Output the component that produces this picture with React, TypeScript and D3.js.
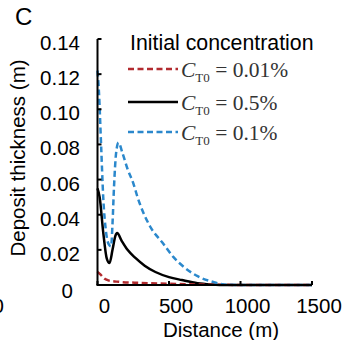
import React from "react";
import * as d3 from "d3";

// Data (distance m, deposit thickness m)
const distRed = [0, 20, 50, 80, 150, 300, 500, 700, 900, 1100, 1500];
const valRed = [0.0075, 0.006, 0.0035, 0.0025, 0.0018, 0.0012, 0.0007, 0.0003, 0.0001, 0, 0];

const distBlack = [0, 15, 40, 65, 84, 105, 125, 137, 170, 210, 265, 330, 405, 500, 590, 700, 800, 900, 1000, 1500];
const valBlack = [0.055, 0.05, 0.03, 0.015, 0.0125, 0.02, 0.028, 0.0296, 0.025, 0.02, 0.0154, 0.011, 0.0074, 0.0045, 0.0028, 0.001, 0.0003, 0, 0, 0];

const distBlue = [0, 10, 25, 40, 60, 80, 95, 105, 115, 130, 147, 175, 210, 250, 280, 370, 455, 530, 600, 700, 810, 900, 1000, 1500];
const valBlue = [0.122, 0.11, 0.08, 0.05, 0.03, 0.023, 0.022, 0.035, 0.055, 0.075, 0.081, 0.075, 0.066, 0.058, 0.05, 0.033, 0.024, 0.016, 0.0105, 0.005, 0.0017, 0.0002, 0, 0];

const xTicks = [0, 500, 1000, 1500];
const yTicks = [0, 0.02, 0.04, 0.06, 0.08, 0.1, 0.12, 0.14];
const legendLabels = ["0.01%", "0.5%", "0.1%"];

const RED = "#B22B2F";
const BLUE = "#2B88CC";
const SANS = "Liberation Sans, Arial, sans-serif";
const SERIF = "Liberation Serif, Times New Roman, serif";

export default function App() {
  const x = d3.scaleLinear().domain([0, 1500]).range([97.5, 312]);
  const y = d3.scaleLinear().domain([0, 0.14]).range([285, 39]);

  const mk = (ds: number[], vs: number[]) =>
    d3
      .line<number>()
      .x((_, i) => x(ds[i]))
      .y((v) => y(v))
      .curve(d3.curveMonotoneX)(vs) as string;

  const series = [
    { d: mk(distRed, valRed), color: RED, dash: "6,3.5", label: legendLabels[0] },
    { d: mk(distBlack, valBlack), color: "#000", dash: "none", label: legendLabels[1] },
    { d: mk(distBlue, valBlue), color: BLUE, dash: "6,3.5", label: legendLabels[2] },
  ];
  const drawOrder = [1, 0, 2];
  const legendY = [69, 102, 132];

  return (
    <svg
      width={345}
      height={340}
      style={{ position: "absolute", left: 0, top: 0, background: "#fff" }}
    >
      <text x={15} y={25} fontFamily={SANS} fontSize={24} fill="#000">C</text>

      {/* neighbour panel fragment */}
      <text x={4} y={313} fontFamily={SANS} fontSize={20.5} textAnchor="end" fill="#000">1500</text>

      {/* curves */}
      {drawOrder.map((i) => (
        <path
          key={i}
          d={series[i].d}
          fill="none"
          stroke={series[i].color}
          strokeWidth={2.5}
          strokeDasharray={series[i].dash}
        />
      ))}

      {/* axes */}
      <line x1={x(0)} x2={x(0)} y1={y(0.14)} y2={y(0)} stroke="#000" strokeWidth={2} />
      <line x1={x(0) - 1} x2={x(1500)} y1={y(0)} y2={y(0)} stroke="#000" strokeWidth={2} />
      {yTicks.map((t) => (
        <g key={t}>
          <line x1={x(0)} x2={x(0) + 4} y1={y(t)} y2={y(t)} stroke="#000" strokeWidth={2} />
          <text
            x={t === 0 ? 73 : 80}
            y={y(t) + (t === 0 ? 13 : 11)}
            fontFamily={SANS}
            fontSize={20.5}
            textAnchor="end"
            fill="#000"
          >
            {t === 0 ? "0" : d3.format(".2f")(t)}
          </text>
        </g>
      ))}
      {xTicks.map((t) => (
        <g key={t}>
          <line x1={x(t)} x2={x(t)} y1={y(0)} y2={y(0) - 4} stroke="#000" strokeWidth={2} />
          <text x={x(t) + 7} y={313} fontFamily={SANS} fontSize={20.5} textAnchor="middle" fill="#000">
            {t}
          </text>
        </g>
      ))}

      <text x={221} y={337} fontFamily={SANS} fontSize={20.5} textAnchor="middle" fill="#000">
        Distance (m)
      </text>
      <text
        transform="translate(25,158) rotate(-90)"
        fontFamily={SANS}
        fontSize={20.5}
        textAnchor="middle"
        fill="#000"
      >
        Deposit thickness (m)
      </text>

      {/* legend */}
      <text x={130} y={50} fontFamily={SANS} fontSize={21.3} fill="#000">Initial concentration</text>
      {series.map((s, i) => (
        <g key={i}>
          <line
            x1={128}
            x2={178}
            y1={legendY[i]}
            y2={legendY[i]}
            stroke={s.color}
            strokeWidth={2.5}
            strokeDasharray={s.dash}
          />
          <text x={181} y={legendY[i] + 8} fontFamily={SERIF} fontSize={21.5} fill="#333">
            <tspan fontStyle="italic">C</tspan>
            <tspan fontSize={13} dy={5}>T0</tspan>
            <tspan dy={-5}>{" = " + s.label}</tspan>
          </text>
        </g>
      ))}
    </svg>
  );
}
